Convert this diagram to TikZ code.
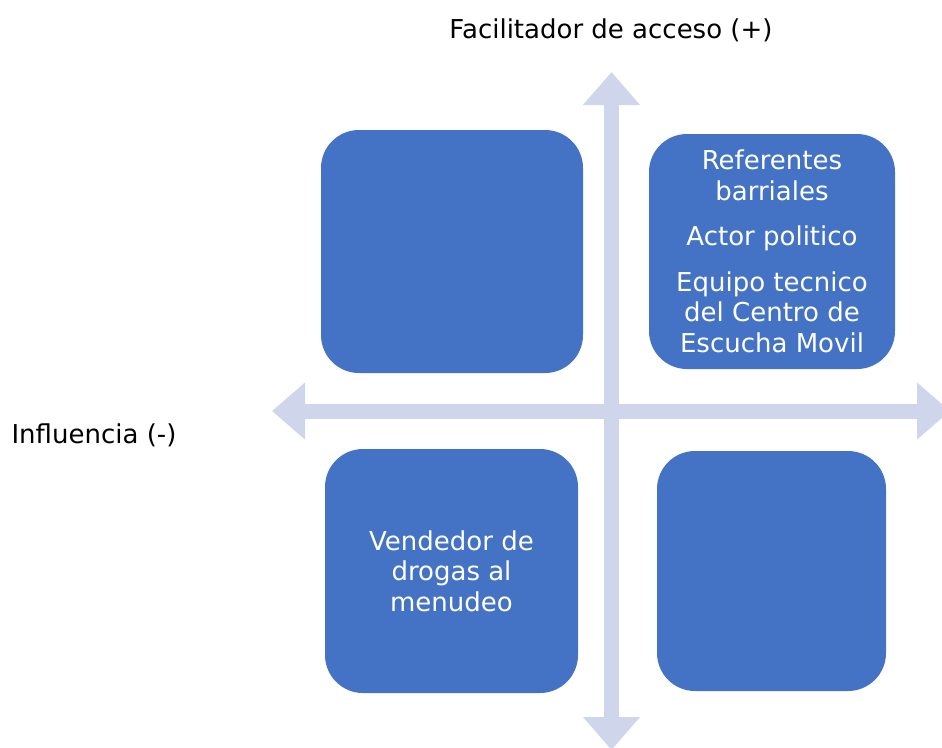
\documentclass[tikz,border=0pt]{standalone}
\usepackage{fontspec}
\setmainfont{DejaVu Sans}
\usetikzlibrary{arrows.meta}
\definecolor{boxblue}{RGB}{68,114,196}
\definecolor{axiscol}{RGB}{207,213,234}
\tikzset{
  quad/.style={fill=boxblue, draw=none, rounded corners=38pt, text=white,
    align=center, inner sep=0pt, font=\fontsize{26}{30.5}\selectfont},
  axis/.style={draw=axiscol, line width=15pt,
    {Triangle[length=33pt,width=55pt]}-{Triangle[length=33pt,width=55pt]}},
  lbl/.style={text=black, font=\fontsize{26}{30}\selectfont, inner sep=0pt}
}
\begin{document}
\begin{tikzpicture}[x=1pt,y=-1pt]
\useasboundingbox (0,0) rectangle (942,747);
\coordinate (vtop) at (611.5,72);
\coordinate (vbot) at (611.5,750);
\coordinate (hleft) at (272,411);
\coordinate (hright) at (950,411);
\draw[axis] (vtop) -- (vbot);
\draw[axis] (hleft) -- (hright);
\node[quad, minimum width=262pt, minimum height=243pt] (tl) at (452,251.5) {};
\node[quad, minimum width=246pt, minimum height=235pt] (tr) at (772,251.5)
  {Referentes\\barriales\\[15pt]Actor politico\\[15pt]Equipo tecnico\\del Centro de\\Escucha Movil};
\node[quad, minimum width=253pt, minimum height=244pt] (bl) at (451.5,571)
  {Vendedor de\\drogas al\\menudeo};
\node[quad, minimum width=229pt, minimum height=240pt] (br) at (771.5,571) {};
\node[lbl] (ytitle) at (611,30) {Facilitador de acceso (+)};
\node[lbl] (xtitle) at (94,435) {Influencia (-)};
\end{tikzpicture}
\end{document}
